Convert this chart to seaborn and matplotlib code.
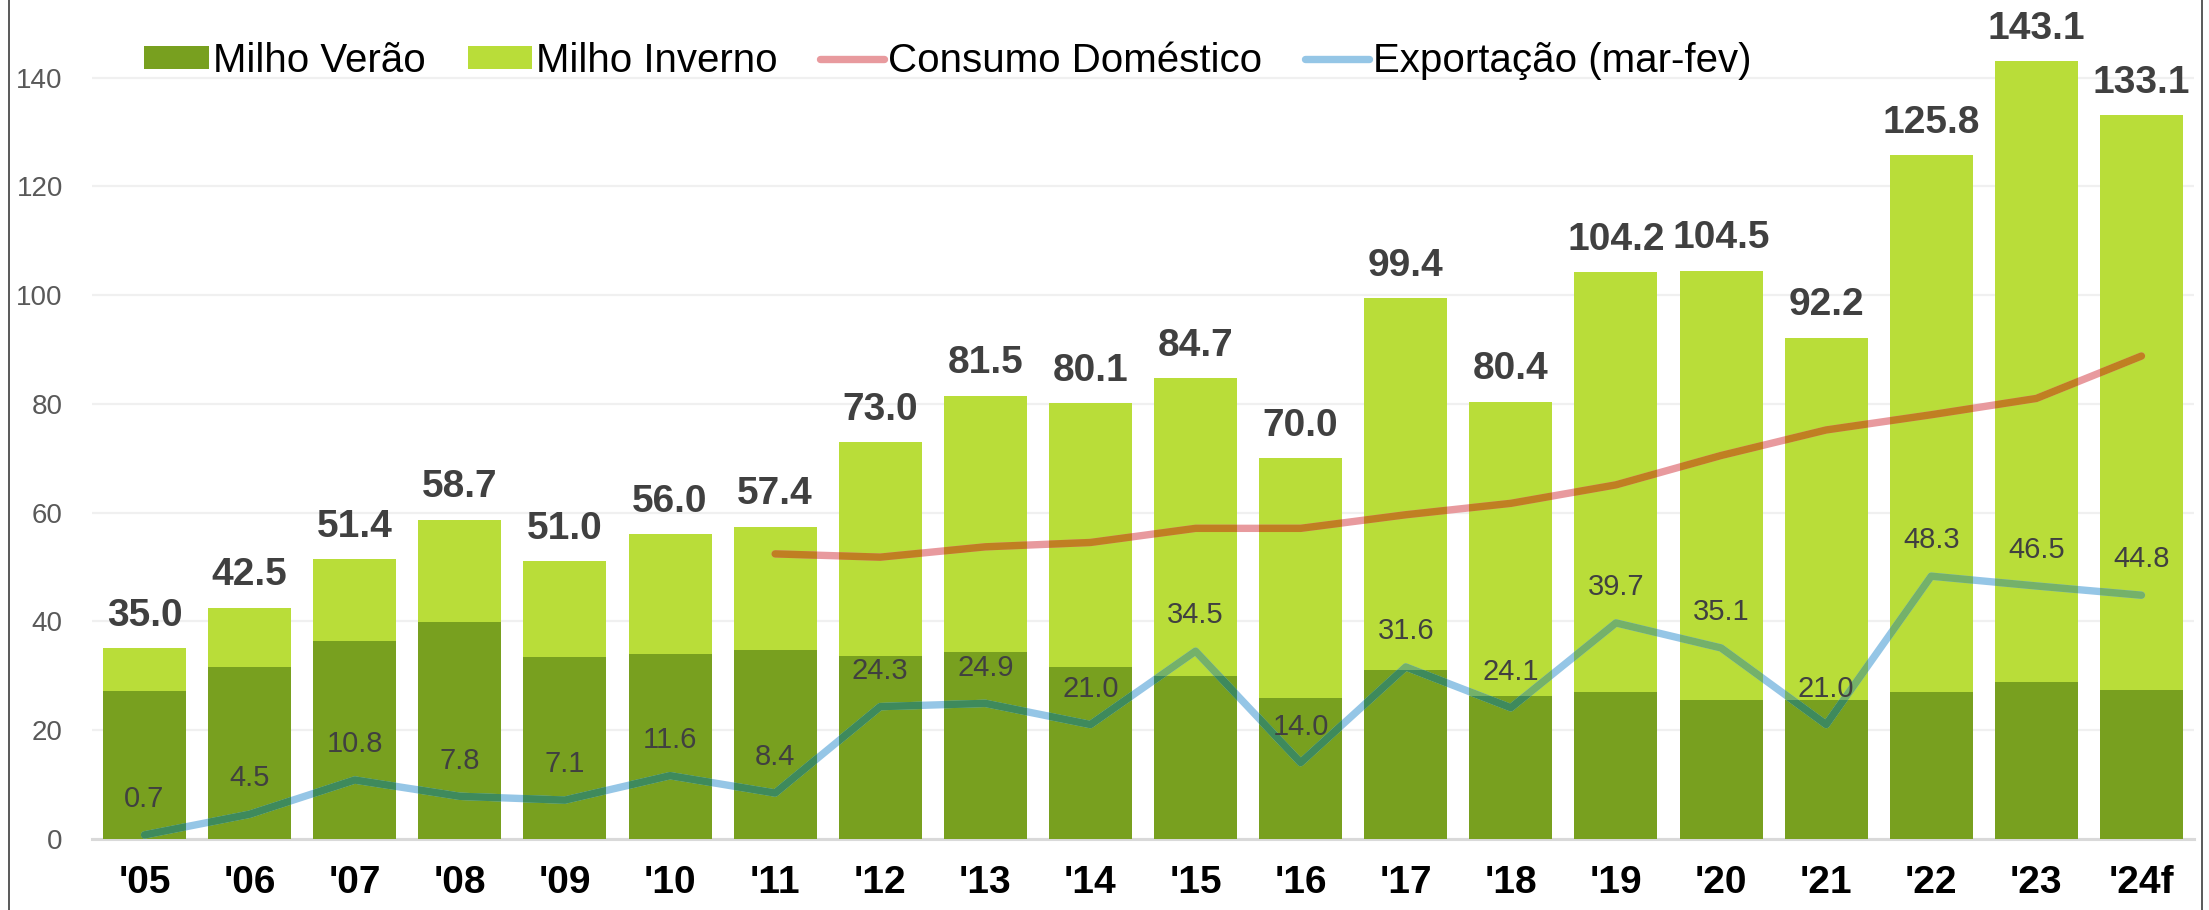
import numpy as np
import pandas as pd
import matplotlib
matplotlib.use("Agg")
import matplotlib.pyplot as plt
import seaborn as sns
from matplotlib.patches import Patch
from matplotlib.lines import Line2D

# ---------------- data ----------------
years = ["'05", "'06", "'07", "'08", "'09", "'10", "'11", "'12", "'13", "'14",
         "'15", "'16", "'17", "'18", "'19", "'20", "'21", "'22", "'23", "'24f"]
total = [35.0, 42.5, 51.4, 58.7, 51.0, 56.0, 57.4, 73.0, 81.5, 80.1,
         84.7, 70.0, 99.4, 80.4, 104.2, 104.5, 92.2, 125.8, 143.1, 133.1]
verao = [27.2, 31.6, 36.4, 39.9, 33.5, 33.9, 34.8, 33.7, 34.4, 31.5,
         30.0, 25.8, 31.0, 26.3, 27.0, 25.5, 25.5, 27.0, 28.8, 27.3]
consumo_years = years[6:]
consumo = [52.4, 51.8, 53.7, 54.5, 57.1, 57.1, 59.6, 61.7, 65.1, 70.5, 75.2, 78.0, 81.0, 88.8]
exportacao = [0.7, 4.5, 10.8, 7.8, 7.1, 11.6, 8.4, 24.3, 24.9, 21.0,
              34.5, 14.0, 31.6, 24.1, 39.7, 35.1, 21.0, 48.3, 46.5, 44.8]

labels = ["Milho Verão", "Milho Inverno", "Consumo Doméstico", "Exportação (mar-fev)"]

# ---------------- style ----------------
C_DARK = "#78a01f"
C_LIGHT = "#b9dd39"
C_CONS = "#e89a9e"
C_CONS_ON_LIGHT = "#c07f22"
C_EXP = "#95c6e6"
C_EXP_ON_LIGHT = "#74b16a"
C_EXP_ON_DARK = "#3e8a5c"

sns.set_theme(style="white")
plt.rcParams["font.family"] = ["Liberation Sans", "DejaVu Sans"]

DPI = 100
fig = plt.figure(figsize=(22.09, 9.10), dpi=DPI)
ax = fig.add_axes([92 / 2209, (910 - 838.7) / 910, (2194 - 92) / 2209, (838.7 - 23.4) / 910])

df = pd.DataFrame({"year": years, "total": total, "verao": verao, "exp": exportacao})
pos = np.arange(len(years))

sns.barplot(data=df, x="year", y="total", color=C_LIGHT, width=0.79,
            saturation=1, ax=ax, zorder=2, linewidth=0)
n_light = len(ax.patches)
sns.barplot(data=df, x="year", y="verao", color=C_DARK, width=0.79,
            saturation=1, ax=ax, zorder=2, linewidth=0)
light_bars = ax.patches[:n_light]
dark_bars = ax.patches[n_light:]

LW = 5.3
cons_pos = pos[6:]
sns.lineplot(x=cons_pos, y=consumo, color=C_CONS, lw=LW, ax=ax, zorder=3,
             solid_capstyle="round", solid_joinstyle="round")
sns.lineplot(x=pos, y=exportacao, color=C_EXP, lw=LW, ax=ax, zorder=3,
             solid_capstyle="round", solid_joinstyle="round")

# overlay colors where the lines cross the bars (Excel-like blending)
for bars, ccol, ecol, z in [(light_bars, C_CONS_ON_LIGHT, C_EXP_ON_LIGHT, 3.1),
                            (dark_bars, C_CONS_ON_LIGHT, C_EXP_ON_DARK, 3.2)]:
    for b in bars:
        l1, = ax.plot(cons_pos, consumo, color=ccol, lw=LW, zorder=z,
                      solid_capstyle="round", solid_joinstyle="round")
        l1.set_clip_path(b)
        l2, = ax.plot(pos, exportacao, color=ecol, lw=LW, zorder=z,
                      solid_capstyle="round", solid_joinstyle="round")
        l2.set_clip_path(b)

# labels
for x, t in zip(pos, total):
    ax.annotate(f"{t:.1f}", (x, t), xytext=(0, 16), textcoords="offset points",
                ha="center", va="baseline", fontsize=28, fontweight="bold",
                color="#404040", zorder=5)
for x, e in zip(pos, exportacao):
    ax.annotate(f"{e:.1f}", (x, e), xytext=(0, 20), textcoords="offset points",
                ha="center", va="baseline", fontsize=21, color="#404040", zorder=5)

# axes styling
ax.set_xlim(-0.5, len(years) - 0.5)
ax.set_ylim(0, 150)
ax.set_yticks(np.arange(0, 141, 20))
ax.set_xlabel("")
ax.set_ylabel("")
ax.grid(axis="y", color="#f0f0f0", lw=1.6, zorder=0)
ax.grid(axis="x", visible=False)
ax.set_axisbelow(True)
for s in ["top", "right", "left"]:
    ax.spines[s].set_visible(False)
ax.spines["bottom"].set_color("#d9d9d9")
ax.spines["bottom"].set_linewidth(2.2)
ax.spines["bottom"].set_zorder(1)
ax.tick_params(axis="y", length=0, pad=21, labelsize=20, labelcolor="#595959")
ax.tick_params(axis="x", length=0, pad=19, labelsize=28)
for t in ax.get_xticklabels():
    t.set_fontweight("bold")
    t.set_color("black")

# legend
handles = [Patch(facecolor=C_DARK, edgecolor="none"),
           Patch(facecolor=C_LIGHT, edgecolor="none"),
           Line2D([0], [0], color=C_CONS, lw=LW, solid_capstyle="round"),
           Line2D([0], [0], color=C_EXP, lw=LW, solid_capstyle="round")]
leg = fig.legend(handles, labels, loc="center", bbox_to_anchor=(948 / 2209, 1 - 61 / 910),
                 ncol=4, frameon=False, fontsize=29, handlelength=1.6, handleheight=0.5,
                 handletextpad=0.1, columnspacing=1.05, borderaxespad=0)
for t in leg.get_texts():
    t.set_color("black")

# frame lines at left and right edges
fig.add_artist(Line2D([9 / 2209, 9 / 2209], [0, 1], color="#595959", lw=1.4,
                      transform=fig.transFigure))
fig.add_artist(Line2D([2202 / 2209, 2202 / 2209], [0, 1], color="#595959", lw=1.4,
                      transform=fig.transFigure))

fig.savefig("out.png", dpi=DPI)
